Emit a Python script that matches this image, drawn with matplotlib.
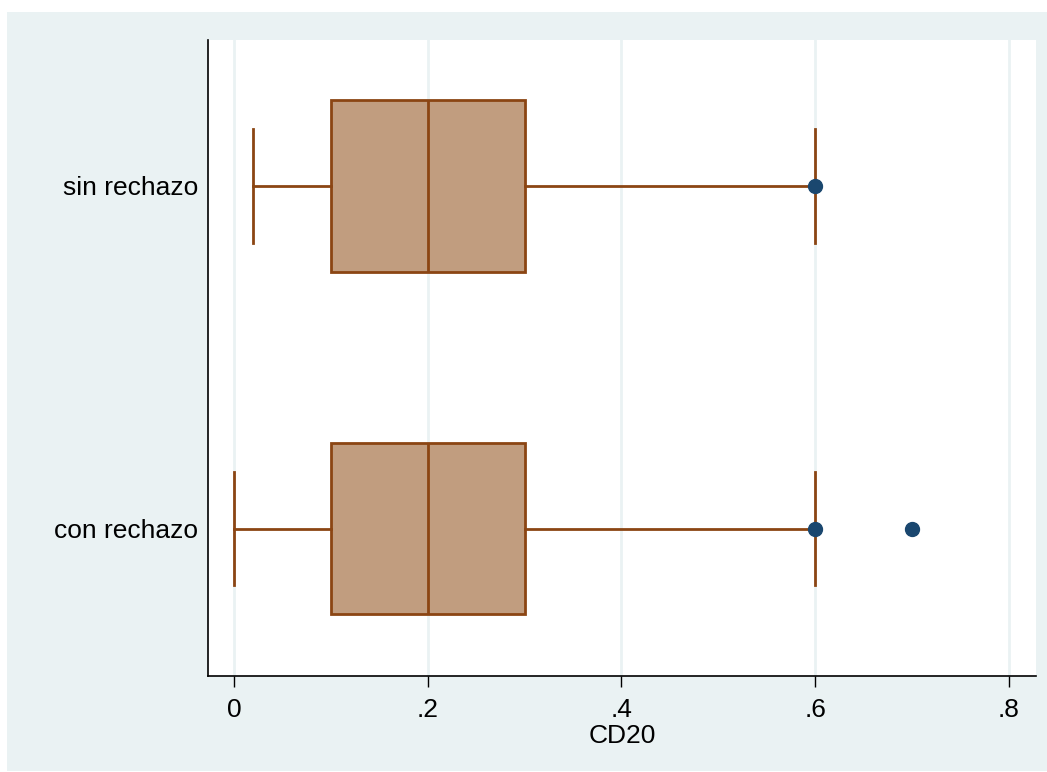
import numpy as np
import matplotlib.pyplot as plt
from matplotlib.patches import Rectangle

plt.rcParams['font.family'] = ['Liberation Sans', 'DejaVu Sans']

# data
groups = ['con rechazo', 'sin rechazo']
whislo = [0.0, 0.02]
q1 = [0.1, 0.1]
med = [0.2, 0.2]
q3 = [0.3, 0.3]
whishi = [0.6, 0.6]
outliers = [[0.6, 0.7], [0.6]]
xticks = [0, 0.2, 0.4, 0.6, 0.8]
xticklabels = ['0', '.2', '.4', '.6', '.8']

W, H = 1047, 772
fig = plt.figure(figsize=(W / 100, H / 100), dpi=100, facecolor='white')
bg = '#eaf2f3'
fig.patches.append(Rectangle((7 / W, 1 - 771 / H), 1040 / W, 759 / H,
                             transform=fig.transFigure, facecolor=bg,
                             edgecolor='none', zorder=-10))

ax = fig.add_axes([208 / W, 1 - 676 / H, (1036 - 208) / W, (676 - 40) / H])
ax.set_facecolor('white')

stats = []
for i in range(len(groups)):
    stats.append(dict(label=groups[i], whislo=whislo[i], q1=q1[i], med=med[i],
                      q3=q3[i], whishi=whishi[i], fliers=outliers[i]))

brown = '#8b4513'
ax.bxp(stats, positions=[0, 1], widths=0.5, vert=False, patch_artist=True,
       boxprops=dict(facecolor='#c19d7f', edgecolor=brown, linewidth=2),
       medianprops=dict(color=brown, linewidth=2),
       whiskerprops=dict(color=brown, linewidth=2),
       capprops=dict(color=brown, linewidth=2),
       flierprops=dict(marker='o', markerfacecolor='#1a476f',
                       markeredgecolor='#1a476f', markersize=10),
       capwidths=0.33, zorder=3)

ax.set_xlim(-0.0268, 0.828)
ax.set_ylim(-0.43, 1.426)
ax.set_xticks(xticks)
ax.set_xticklabels(xticklabels)
ax.xaxis.grid(True, color=bg, linewidth=2)
ax.set_axisbelow(True)
ax.set_yticks([0, 1])
ax.set_yticklabels(groups)
ax.tick_params(axis='x', length=8, width=1, labelsize=19, pad=7.5)
ax.tick_params(axis='y', length=0, labelsize=19, pad=7)
ax.set_xlabel('CD20', fontsize=19, labelpad=2)
for s in ['top', 'right']:
    ax.spines[s].set_visible(False)
for s in ['left', 'bottom']:
    ax.spines[s].set_color('black')
    ax.spines[s].set_linewidth(1.2)

fig.savefig('out.png', dpi=100, facecolor='white')
